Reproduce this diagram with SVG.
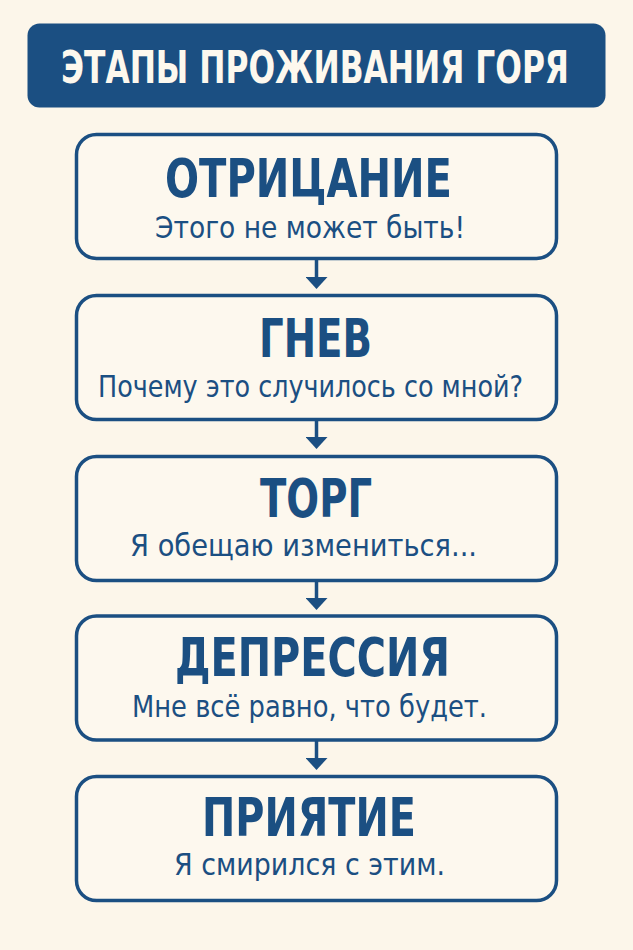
<svg xmlns="http://www.w3.org/2000/svg" width="633" height="950" viewBox="0 0 633 950">
<style>
.bg{fill:#fcf6ea}
.hdr{fill:#1b4f82}
.box{fill:#fdf8ee;stroke:#1b4f82;stroke-width:3.5}
.ht{font-family:"DejaVu Sans Condensed","Liberation Sans",sans-serif;font-weight:bold;font-size:39px;fill:#fdf8ee}
.t{font-family:"DejaVu Sans Condensed","Liberation Sans",sans-serif;font-weight:bold;font-size:53px;fill:#1b4f82}
.s{font-family:"DejaVu Sans Condensed","Liberation Sans",sans-serif;font-size:29.5px;fill:#1b4f82}
.c{stroke:#1b4f82;stroke-width:3.5;fill:none;marker-end:url(#ah)}
</style>
<defs>
<marker id="ah" markerUnits="userSpaceOnUse" viewBox="0 -11 12 22" refX="0" refY="0" markerWidth="12" markerHeight="22" orient="auto">
<path d="M0,-11 L12,0 L0,11 z" fill="#1b4f82"/>
</marker>
</defs>
<rect class="bg" x="0" y="0" width="633" height="950"/>
<g id="header">
<rect class="hdr" x="27.5" y="23.5" width="578" height="84" rx="12"/>
<text class="ht" transform="translate(61,83) scale(1,1.15)" x="0" y="0" textLength="508" lengthAdjust="spacingAndGlyphs">ЭТАПЫ ПРОЖИВАНИЯ ГОРЯ</text>
</g>
<g id="connectors">
<path class="c" d="M316.5,260 V277"/>
<path class="c" d="M316.5,420 V437"/>
<path class="c" d="M316.5,581 V598"/>
<path class="c" d="M316.5,741 V758"/>
</g>
<g id="denial">
<rect class="box" x="76.5" y="134.5" width="480" height="124" rx="20"/>
<text class="t" x="165" y="197" textLength="287" lengthAdjust="spacingAndGlyphs">ОТРИЦАНИЕ</text>
<text class="s" x="155" y="238" textLength="310" lengthAdjust="spacingAndGlyphs">Этого не может быть!</text>
</g>
<g id="anger">
<rect class="box" x="76.5" y="295.5" width="480" height="124" rx="20"/>
<text class="t" x="259" y="357" textLength="113" lengthAdjust="spacingAndGlyphs">ГНЕВ</text>
<text class="s" x="98" y="397" textLength="425" lengthAdjust="spacingAndGlyphs">Почему это случилось со мной?</text>
</g>
<g id="bargaining">
<rect class="box" x="76.5" y="456.5" width="480" height="124" rx="20"/>
<text class="t" x="260" y="517" textLength="112" lengthAdjust="spacingAndGlyphs">ТОРГ</text>
<text class="s" x="130" y="556" textLength="347" lengthAdjust="spacingAndGlyphs">Я обещаю измениться...</text>
</g>
<g id="depression">
<rect class="box" x="76.5" y="616" width="480" height="124" rx="20"/>
<text class="t" x="175" y="676" textLength="275" lengthAdjust="spacingAndGlyphs">ДЕПРЕССИЯ</text>
<text class="s" x="132" y="717" textLength="355" lengthAdjust="spacingAndGlyphs">Мне всё равно, что будет.</text>
</g>
<g id="acceptance">
<rect class="box" x="76.5" y="776.5" width="480" height="124" rx="20"/>
<text class="t" x="202" y="836" textLength="214" lengthAdjust="spacingAndGlyphs">ПРИЯТИЕ</text>
<text class="s" x="174" y="875" textLength="271" lengthAdjust="spacingAndGlyphs">Я смирился с этим.</text>
</g>
</svg>
